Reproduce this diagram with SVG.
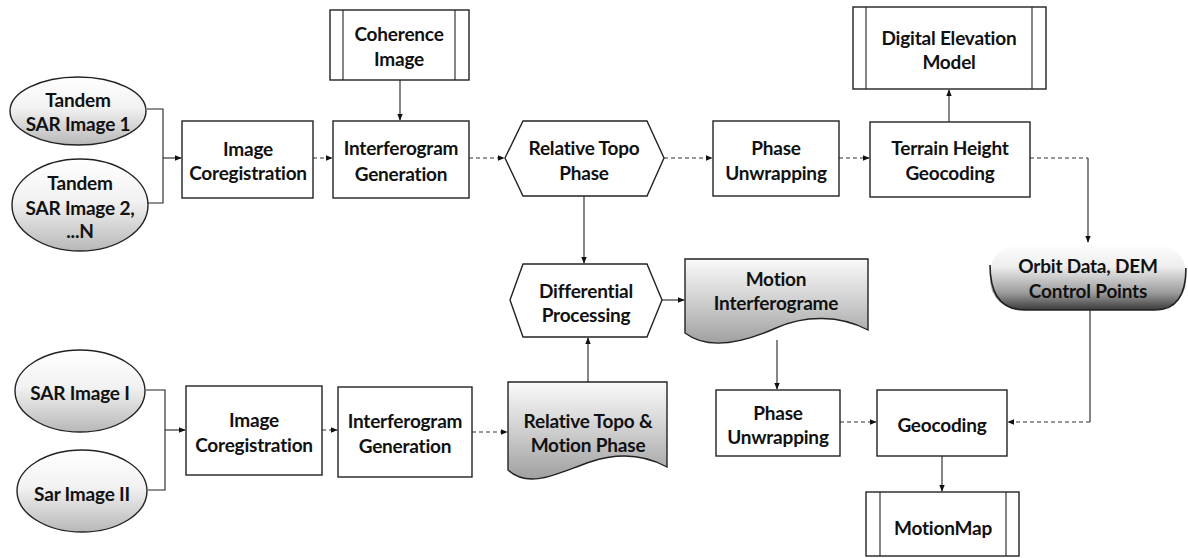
<svg xmlns="http://www.w3.org/2000/svg" width="1188" height="558" viewBox="0 0 1188 558">
<defs>
<style>
text{font-family:Lato,"Open Sans","Liberation Sans",sans-serif;font-weight:bold;font-size:19px;fill:#111;text-anchor:middle;dominant-baseline:central;letter-spacing:-0.2px}
.box{fill:#fff;stroke:#222;stroke-width:1.4}
.line{stroke:#222;stroke-width:1.1;fill:none}
.dash{stroke:#333;stroke-width:1.1;fill:none;stroke-dasharray:4 3}
</style>
<marker id="arr" viewBox="0 0 10 10" refX="9" refY="5" markerWidth="7" markerHeight="7" orient="auto-start-reverse" markerUnits="userSpaceOnUse">
<path d="M0,1 L10,5 L0,9 Z" fill="#111"/>
</marker>
<linearGradient id="ell" x1="0" y1="0" x2="0" y2="1">
<stop offset="0" stop-color="#fff"/><stop offset="0.45" stop-color="#f2f2f2"/><stop offset="1" stop-color="#b8b8b8"/>
</linearGradient>
<linearGradient id="doc" x1="0" y1="0" x2="0" y2="1">
<stop offset="0" stop-color="#fafafa"/><stop offset="0.5" stop-color="#cfcfcf"/><stop offset="1" stop-color="#a0a0a0"/>
</linearGradient>
<linearGradient id="orb" x1="0" y1="0" x2="0" y2="1">
<stop offset="0" stop-color="#fff"/><stop offset="0.35" stop-color="#eee"/><stop offset="0.75" stop-color="#9a9a9a"/><stop offset="1" stop-color="#3a3a3a"/>
</linearGradient>
</defs>

<g id="connectors">
<path class="line" d="M147,109 H163 V203 H148"/>
<path class="line" d="M163,158 H181" marker-end="url(#arr)"/>
<path class="dash" d="M313,158 H332" marker-end="url(#arr)"/>
<path class="line" d="M400,80 V120" marker-end="url(#arr)"/>
<path class="dash" d="M469,158 H504" marker-end="url(#arr)"/>
<path class="dash" d="M664,158 H712" marker-end="url(#arr)"/>
<path class="dash" d="M839,158 H869" marker-end="url(#arr)"/>
<path class="line" d="M949,122 V90" marker-end="url(#arr)"/>
<path class="dash" d="M1030,158 H1088"/>
<path class="line" d="M1088,158 V242" marker-end="url(#arr)"/>
<path class="line" d="M584,196 V263" marker-end="url(#arr)"/>
<path class="line" d="M662,300 H684" marker-end="url(#arr)"/>
<path class="line" d="M777,340 V389" marker-end="url(#arr)"/>
<path class="line" d="M588,382 V338" marker-end="url(#arr)"/>
<path class="line" d="M1090,310 V422"/>
<path class="dash" d="M1090,422 H1008" marker-end="url(#arr)"/>
<path class="dash" d="M840,422 H876" marker-end="url(#arr)"/>
<path class="line" d="M942,456 V491" marker-end="url(#arr)"/>
<path class="line" d="M146,390 H165 V490 H148"/>
<path class="line" d="M165,430 H185" marker-end="url(#arr)"/>
<path class="dash" d="M322,430 H337" marker-end="url(#arr)"/>
<path class="dash" d="M472,432 H507" marker-end="url(#arr)"/>
</g>

<g id="tandem1">
<ellipse class="box" cx="78" cy="111" rx="68" ry="34" style="fill:url(#ell)"/>
<text x="78" y="99">Tandem</text>
<text x="78" y="123">SAR Image 1</text>
</g>
<g id="tandem2">
<ellipse class="box" cx="80" cy="205" rx="68" ry="46" style="fill:url(#ell)"/>
<text x="80" y="182">Tandem</text>
<text x="80" y="207">SAR Image 2,</text>
<text x="80" y="230">...N</text>
</g>
<g id="coreg1">
<rect class="box" x="182" y="121" width="131" height="77"/>
<text x="248" y="148">Image</text>
<text x="248" y="172">Coregistration</text>
</g>
<g id="coherence">
<rect class="box" x="330" y="10" width="139" height="70"/>
<line class="line" x1="343" y1="10" x2="343" y2="80"/>
<line class="line" x1="455" y1="10" x2="455" y2="80"/>
<text x="399" y="33">Coherence</text>
<text x="399" y="58">Image</text>
</g>
<g id="interf1">
<rect class="box" x="333" y="121" width="136" height="77"/>
<text x="401" y="147">Interferogram</text>
<text x="401" y="173">Generation</text>
</g>
<g id="reltopo">
<polygon class="box" points="523,121 647,121 664,158 647,196 523,196 505,158"/>
<text x="584" y="147">Relative Topo</text>
<text x="584" y="172">Phase</text>
</g>
<g id="unwrap1">
<rect class="box" x="713" y="121" width="126" height="75"/>
<text x="776" y="147">Phase</text>
<text x="776" y="172">Unwrapping</text>
</g>
<g id="dem">
<rect class="box" x="853" y="7" width="193" height="82"/>
<line class="line" x1="866" y1="7" x2="866" y2="89"/>
<line class="line" x1="1032" y1="7" x2="1032" y2="89"/>
<text x="949" y="37">Digital Elevation</text>
<text x="949" y="61">Model</text>
</g>
<g id="terrain">
<rect class="box" x="870" y="122" width="160" height="75"/>
<text x="950" y="147">Terrain Height</text>
<text x="950" y="172">Geocoding</text>
</g>
<g id="orbit">
<rect x="990" y="243" width="196" height="67" rx="32" ry="30" style="fill:url(#orb)"/>
<path class="line" style="stroke-width:1.6" d="M990,265 Q990,310 1025,310 H1155 Q1186,310 1186,268"/>
<text x="1088" y="265">Orbit Data, DEM</text>
<text x="1088" y="290">Control Points</text>
</g>
<g id="diff">
<polygon class="box" points="523,264 647,264 662,300 647,337 523,337 510,300"/>
<text x="586" y="290">Differential</text>
<text x="586" y="314">Processing</text>
</g>
<g id="motioninterf">
<path class="box" style="fill:url(#doc)" d="M685,259 H868 V330 C840,315 805,315 776,328 S710,352 685,333 Z"/>
<text x="776" y="278">Motion</text>
<text x="776" y="302">Interferograme</text>
</g>
<g id="reltopomotion">
<path class="box" style="fill:url(#doc)" d="M508,382 H667 V467 C645,455 620,452 590,462 S530,490 508,470 Z"/>
<text x="588" y="420">Relative Topo &amp;</text>
<text x="588" y="444">Motion Phase</text>
</g>
<g id="unwrap2">
<rect class="box" x="716" y="390" width="124" height="66"/>
<text x="778" y="412">Phase</text>
<text x="778" y="436">Unwrapping</text>
</g>
<g id="geocoding">
<rect class="box" x="877" y="390" width="130" height="66"/>
<text x="942" y="424">Geocoding</text>
</g>
<g id="motionmap">
<rect class="box" x="866" y="492" width="153" height="64"/>
<line class="line" x1="880" y1="492" x2="880" y2="556"/>
<line class="line" x1="1006" y1="492" x2="1006" y2="556"/>
<text x="943" y="527">MotionMap</text>
</g>
<g id="sar1">
<ellipse class="box" cx="80" cy="391" rx="65" ry="41" style="fill:url(#ell)"/>
<text x="80" y="392">SAR Image I</text>
</g>
<g id="sar2">
<ellipse class="box" cx="82" cy="491" rx="65" ry="41" style="fill:url(#ell)"/>
<text x="82" y="493">Sar Image II</text>
</g>
<g id="coreg2">
<rect class="box" x="186" y="386" width="136" height="89"/>
<text x="254" y="419">Image</text>
<text x="254" y="444">Coregistration</text>
</g>
<g id="interf2">
<rect class="box" x="338" y="387" width="134" height="90"/>
<text x="405" y="420">Interferogram</text>
<text x="405" y="445">Generation</text>
</g>
</svg>
